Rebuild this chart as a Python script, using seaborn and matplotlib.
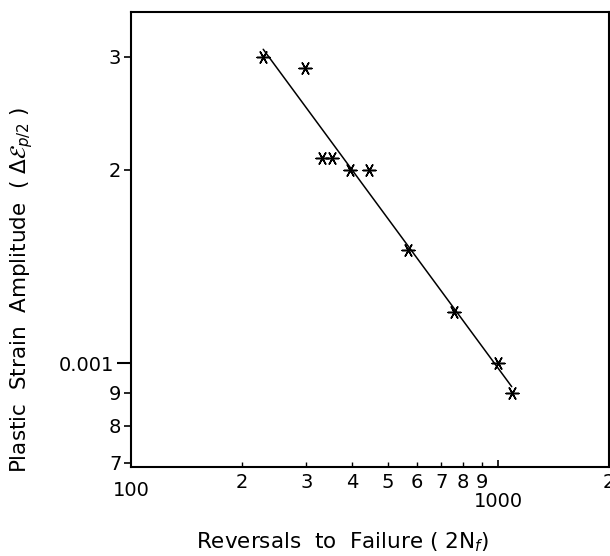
import matplotlib
matplotlib.use("Agg")
import matplotlib.pyplot as plt
import matplotlib.ticker as mticker
import seaborn as sns
import pandas as pd

# ---- data ----
reversals = [229, 297, 331, 353, 394, 444, 567, 756, 995, 1087]
amplitude = [3.00e-3, 2.88e-3, 2.09e-3, 2.09e-3, 2.00e-3, 2.00e-3, 1.50e-3, 1.20e-3, 1.00e-3, 0.90e-3]
fit_reversals = [229, 1087]
fit_amplitude = [3.08e-3, 0.92e-3]

x_major = [100, 1000]
x_major_labels = ["100", "1000"]
x_minor = [200, 300, 400, 500, 600, 700, 800, 900, 2000]
x_minor_labels = ["2", "3", "4", "5", "6", "7", "8", "9", "2"]
y_major = [1e-3]
y_major_labels = ["0.001"]
y_minor = [7e-4, 8e-4, 9e-4, 2e-3, 3e-3]
y_minor_labels = ["7", "8", "9", "2", "3"]

pts = pd.DataFrame({"N": reversals, "A": amplitude})
fit = pd.DataFrame({"N": fit_reversals, "A": fit_amplitude})

sns.set_style("ticks")
plt.rcParams["font.family"] = ["DejaVu Sans"]
plt.rcParams["mathtext.fontset"] = "dejavusans"
plt.rcParams["text.color"] = "black"
plt.rcParams["axes.labelcolor"] = "black"
plt.rcParams["xtick.color"] = "black"
plt.rcParams["ytick.color"] = "black"

fig = plt.figure(figsize=(6.10, 5.56), dpi=100)
ax = fig.add_axes([131 / 610, 1 - 467 / 556, (609 - 131) / 610, (467 - 12) / 556])

sns.lineplot(data=fit, x="N", y="A", ax=ax, color="black", linewidth=1.1,
             sort=False, estimator=None)
sns.scatterplot(data=pts, x="N", y="A", ax=ax, marker=(6, 2, 90), s=85,
                color="black", linewidth=1.1, edgecolor="black")

ax.set_xscale("log")
ax.set_yscale("log")
ax.set_xlim(100, 2000)
ax.set_ylim(6.9e-4, 3.52e-3)

ax.xaxis.set_major_locator(mticker.FixedLocator(x_major))
ax.xaxis.set_major_formatter(mticker.FixedFormatter(x_major_labels))
ax.xaxis.set_minor_locator(mticker.FixedLocator(x_minor))
ax.xaxis.set_minor_formatter(mticker.FixedFormatter(x_minor_labels))
ax.yaxis.set_major_locator(mticker.FixedLocator(y_major))
ax.yaxis.set_major_formatter(mticker.FixedFormatter(y_major_labels))
ax.yaxis.set_minor_locator(mticker.FixedLocator(y_minor))
ax.yaxis.set_minor_formatter(mticker.FixedFormatter(y_minor_labels))

fs = 14
ax.tick_params(axis="x", which="major", direction="in", length=5, width=1.2,
               pad=10, labelsize=fs, colors="black")
ax.tick_params(axis="x", which="minor", direction="in", length=3.5, width=1.0,
               pad=4, labelsize=fs, colors="black")
ax.tick_params(axis="y", which="major", direction="out", length=10, width=1.5,
               pad=2, labelsize=fs, colors="black")
ax.tick_params(axis="y", which="minor", direction="out", length=5, width=1.2,
               pad=2, labelsize=fs, colors="black")

for t, lab in zip(ax.xaxis.get_major_ticks(), x_major_labels):
    if lab == "1000":
        t.set_pad(18)

for s in ax.spines.values():
    s.set_visible(True)
    s.set_linewidth(1.5)
    s.set_color("black")

ax.set_xlabel(r"Reversals  to  Failure ( 2N$_f$)", fontsize=15.5, color="black")
ax.set_ylabel(r"Plastic  Strain  Amplitude  ( $\Delta\mathcal{E}_{p/2}$ )",
              fontsize=15.5, color="black")
ax.xaxis.set_label_coords((343 - 131) / 478, -(530 - 467) / 455)
ax.yaxis.set_label_coords(-(131 - 35) / 478, (467 - 290) / 455)

fig.savefig("out.png", dpi=100)
